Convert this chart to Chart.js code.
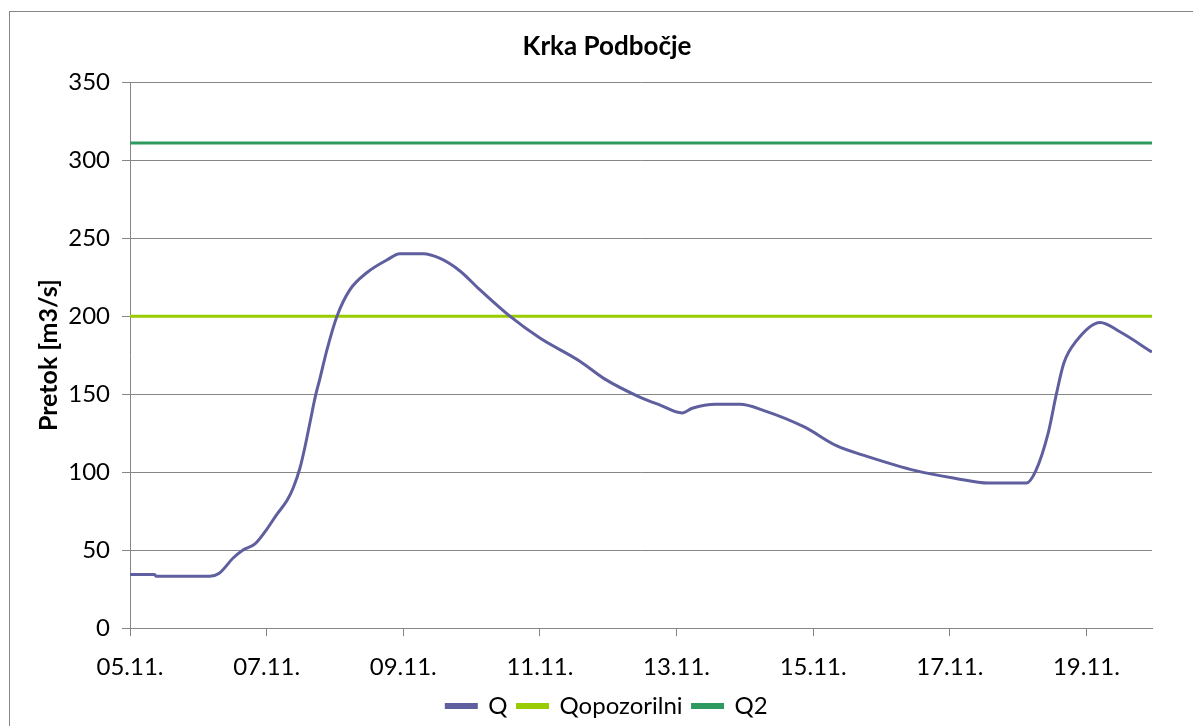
<!DOCTYPE html>
<html>
<head>
<meta charset="utf-8">
<script src="https://cdn.jsdelivr.net/npm/chart.js@4.4.1/dist/chart.umd.min.js"></script>
<style>
  html, body { margin: 0; padding: 0; background: #fff; }
  #wrap { position: relative; width: 1193px; height: 726px; overflow: hidden; }
  #frame { position: absolute; left: 9px; top: 11px; width: 1300px; height: 800px; border: 1px solid #868686; box-sizing: border-box; }
  canvas { position: absolute; left: 0; top: 0; }
</style>
</head>
<body>
<div id="wrap">
  <div id="frame"></div>
  <canvas id="grafico" width="1193" height="726"></canvas>
</div>
<script>
// days since 05.11. 00:00
var dani = [0, 0.36, 0.38, 1.17, 1.3, 1.51, 1.65, 1.83, 1.98, 2.15, 2.3, 2.39, 2.49, 2.56, 2.64, 2.71, 2.78, 2.88, 3.03, 3.22, 3.47, 3.76, 3.95, 4.29, 4.54, 4.83, 5.12, 5.56, 6.0, 6.59, 6.94, 7.47, 7.76, 8.08, 8.23, 8.58, 8.93, 9.28, 9.87, 10.34, 10.8, 11.5, 12.09, 12.56, 13.12, 13.26, 13.44, 13.56, 13.67, 13.85, 14.2, 14.49, 14.96];
var pretok = [34.5, 34.5, 33.3, 33.3, 35, 45, 50, 54, 62, 73, 82, 90, 103, 116, 133, 148, 160, 178, 200, 217, 228, 236, 240, 240, 237, 229, 217, 200, 186, 171, 160, 148, 143, 138, 141, 143.5, 143.5, 139.5, 129, 117, 110, 101, 96, 93, 93, 101, 125, 150, 170, 184, 196, 190, 177];
var qOpozorilni = [200, 200];
var q2 = [311, 311];
var datumi = ['05.11.', '07.11.', '09.11.', '11.11.', '13.11.', '15.11.', '17.11.', '19.11.'];
var yTicks = [0, 50, 100, 150, 200, 250, 300, 350];

var prvi = dani[0];
var zadnji = dani[dani.length - 1];

function tocke(xs, ys) {
    var out = [];
    for (var i = 0; i < xs.length; i++) {
        out.push({ x: xs[i], y: ys[i] });
    }
    return out;
}

var font = "Lato, 'Open Sans', sans-serif";
var siva = '#868686';

var ctx = document.getElementById('grafico');
var chart = new Chart(ctx, {
    type: 'line',
    data: {
        datasets: [{
            label: 'Q',
            data: tocke(dani, pretok),
            borderColor: '#5f5f9f',
            backgroundColor: '#5f5f9f',
            borderWidth: 3,
            pointRadius: 0,
            cubicInterpolationMode: 'monotone'
        },
        {
            label: 'Qopozorilni',
            data: tocke([prvi, zadnji], qOpozorilni),
            borderColor: '#99cc00',
            backgroundColor: '#99cc00',
            borderWidth: 3,
            pointRadius: 0
        },
        {
            label: 'Q2',
            data: tocke([prvi, zadnji], q2),
            borderColor: '#2e9a60',
            backgroundColor: '#2e9a60',
            borderWidth: 3,
            pointRadius: 0
        }]
    },
    options: {
        responsive: false,
        animation: false,
        layout: { padding: { left: 62, right: 41, top: 0, bottom: -2 } },
        plugins: {
            title: {
                display: true,
                text: 'Krka Podbočje',
                color: '#000',
                font: { family: font, size: 26, weight: 'bold' },
                padding: { top: 31, bottom: 20 }
            },
            legend: {
                position: 'bottom',
                labels: {
                    color: '#000',
                    font: { family: font, size: 24 },
                    boxWidth: 30,
                    boxHeight: 3,
                    padding: 10
                }
            },
            tooltip: { enabled: false }
        },
        scales: {
            x: {
                type: 'linear',
                min: prvi,
                max: zadnji,
                afterBuildTicks: function (axis) {
                    axis.ticks = datumi.map(function (d, i) { return { value: i * 2 }; });
                },
                afterFit: function (axis) {
                    axis.height = axis.height - 15;
                },
                ticks: {
                    color: '#000',
                    font: { family: font, size: 24 },
                    padding: 17,
                    maxRotation: 0,
                    autoSkip: false,
                    callback: function (value, index) { return datumi[index]; }
                },
                grid: { drawOnChartArea: false, drawTicks: true, tickLength: 8, color: siva },
                border: { color: siva, width: 1 }
            },
            y: {
                min: 0,
                max: 350,
                afterBuildTicks: function (axis) {
                    axis.ticks = yTicks.map(function (v) { return { value: v }; });
                },
                afterFit: function (axis) {
                    axis.width = 68;
                },
                title: {
                    display: true,
                    text: 'Pretok [m3/s]',
                    color: '#000',
                    font: { family: font, size: 25, weight: 'bold' },
                    padding: { top: -28, bottom: 0 }
                },
                ticks: {
                    color: '#000',
                    font: { family: font, size: 24 },
                    padding: 12
                },
                grid: { color: siva, tickLength: 8 },
                border: { color: siva, width: 1 }
            }
        }
    }
});
</script>
</body>
</html>
